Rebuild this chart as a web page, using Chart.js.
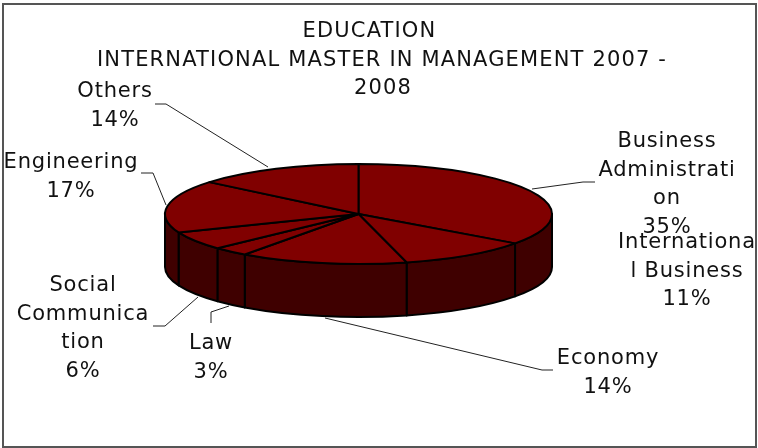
<!DOCTYPE html>
<html>
<head>
<meta charset="utf-8">
<title>Education</title>
<script src="https://cdn.jsdelivr.net/npm/chart.js@4"></script>
<style>
    html, body { margin: 0; padding: 0; background: #fff; }
    #wrap { width: 758px; height: 448px; }
</style>
</head>
<body>
<div id="wrap"><canvas id="chartEducation" width="758" height="448"></canvas></div>
<script>
const categories = ['Business Administration', 'International Business', 'Economy', 'Law', 'Social Communication', 'Engineering', 'Others'];
const shares = [35, 11, 14, 3, 6, 17, 14];
const titleLines = ['EDUCATION', 'INTERNATIONAL MASTER IN MANAGEMENT 2007 -', '2008'];
// same wrapping as the picture, words broken included
const labelLines = [
    ['Business', 'Administrati', 'on', '35%'],
    ['Internationa', 'l Business', '11%'],
    ['Economy', '14%'],
    ['Law', '3%'],
    ['Social', 'Communica', 'tion', '6%'],
    ['Engineering', '17%'],
    ['Others', '14%']
];

const TOP_COLOR = '#800000';
const SIDE_COLOR = '#3f0000';
const TILT = 50 / 193.5;
const DEPTH = 53;
const LINE_HEIGHT = 28.4;

// x centre and first line y of each label
const labelPos = [[667, 142], [687, 243], [608, 359], [211, 344], [83, 286], [71, 163], [115, 92]];
const titlePos = [[369.5, 32], [382, 61], [383, 89]];
const leaders = [
    [[532, 189], [583, 182], [595, 182]],
    [],
    [[325, 318], [542, 370], [553, 370]],
    [[229, 306], [211, 312], [211, 323]],
    [[198, 297], [165, 326], [153, 326]],
    [[166, 205], [153, 173], [141, 173]],
    [[268, 167], [166, 104], [155, 104]]
];

// Pie tumbado: los arcos salen del controlador de Chart.js, aqui solo se aplastan
const pie3d = {
    id: 'pie3d',
    beforeDatasetDraw(chart) {
        const ctx = chart.ctx;
        const arcs = chart.getDatasetMeta(0).data;
        ctx.save();
        ctx.lineWidth = 2;
        ctx.strokeStyle = '#000';
        ctx.lineJoin = 'round';

        arcs.forEach(arc => {
            const a = Math.max(arc.startAngle, 0);
            const b = Math.min(arc.endAngle, Math.PI);
            if (a >= b) return;
            const rx = arc.outerRadius, ry = rx * TILT;
            ctx.beginPath();
            ctx.ellipse(arc.x, arc.y, rx, ry, 0, a, b);
            ctx.ellipse(arc.x, arc.y + DEPTH, rx, ry, 0, b, a, true);
            ctx.closePath();
            ctx.fillStyle = SIDE_COLOR;
            ctx.fill();
            ctx.stroke();
        });

        arcs.forEach(arc => {
            const rx = arc.outerRadius, ry = rx * TILT;
            ctx.beginPath();
            ctx.moveTo(arc.x, arc.y);
            ctx.ellipse(arc.x, arc.y, rx, ry, 0, arc.startAngle, arc.endAngle);
            ctx.closePath();
            ctx.fillStyle = arc.options.backgroundColor;
            ctx.fill();
            ctx.stroke();
        });
        ctx.restore();
        return false;
    },
    afterDraw(chart) {
        const ctx = chart.ctx;
        ctx.save();
        ctx.strokeStyle = '#555';
        ctx.lineWidth = 2;
        ctx.strokeRect(3, 4, 753, 443);

        ctx.strokeStyle = '#222';
        ctx.lineWidth = 1;
        leaders.forEach(pts => {
            if (!pts.length) return;
            ctx.beginPath();
            pts.forEach((p, i) => i ? ctx.lineTo(p[0], p[1]) : ctx.moveTo(p[0], p[1]));
            ctx.stroke();
        });

        ctx.fillStyle = '#111';
        ctx.font = '21px "DejaVu Sans"';
        ctx.textAlign = 'center';
        ctx.textBaseline = 'middle';
        ctx.letterSpacing = '1.15px';
        titleLines.forEach((line, i) => ctx.fillText(line, titlePos[i][0], titlePos[i][1]));
        ctx.letterSpacing = '0.8px';
        labelLines.forEach((lines, i) => {
            lines.forEach((line, j) => ctx.fillText(line, labelPos[i][0], labelPos[i][1] + j * LINE_HEIGHT));
        });
        ctx.restore();
    }
};

new Chart(document.getElementById('chartEducation'), {
    type: 'pie',
    data: {
        labels: categories,
        datasets: [{
            data: shares,
            backgroundColor: TOP_COLOR,
            borderWidth: 0,
            radius: 193.5
        }]
    },
    options: {
        responsive: false,
        animation: false,
        layout: { padding: { left: 0, right: 41, top: 0, bottom: 20 } },
        plugins: { legend: { display: false }, tooltip: { enabled: false } }
    },
    plugins: [pie3d]
});
</script>
</body>
</html>
